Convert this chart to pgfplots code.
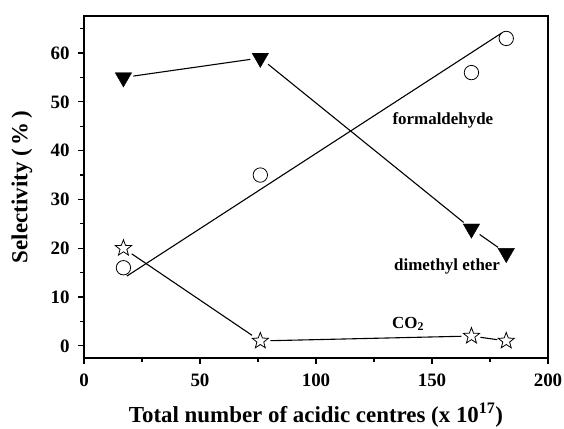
\documentclass[border=0pt]{standalone}
\usepackage{pgfplots}
\pgfplotsset{compat=1.18}
\usepackage{fontspec}
\setmainfont{Liberation Serif}
\usetikzlibrary{plotmarks}
\pgfdeclareplotmark{ostar}{%
  \pgfpathmoveto{\pgfpointpolar{90}{\pgfplotmarksize}}%
  \pgfpathlineto{\pgfpointpolar{126}{0.42\pgfplotmarksize}}%
  \pgfpathlineto{\pgfpointpolar{162}{\pgfplotmarksize}}%
  \pgfpathlineto{\pgfpointpolar{198}{0.42\pgfplotmarksize}}%
  \pgfpathlineto{\pgfpointpolar{234}{\pgfplotmarksize}}%
  \pgfpathlineto{\pgfpointpolar{270}{0.42\pgfplotmarksize}}%
  \pgfpathlineto{\pgfpointpolar{306}{\pgfplotmarksize}}%
  \pgfpathlineto{\pgfpointpolar{342}{0.42\pgfplotmarksize}}%
  \pgfpathlineto{\pgfpointpolar{18}{\pgfplotmarksize}}%
  \pgfpathlineto{\pgfpointpolar{54}{0.42\pgfplotmarksize}}%
  \pgfpathclose
  \pgfusepathqfillstroke
}
\begin{document}
\begin{tikzpicture}
\begin{axis}[
  name=ax,
  scale only axis,
  width=464bp, height=342bp,
  xmin=0, xmax=200, ymin=-2.5, ymax=67.6,
  xtick={0,50,100,150,200},
  ytick={0,10,20,30,40,50,60},
  minor xtick={25,75,125,175},
  minor ytick={5,15,25,35,45,55,65},
  tick pos=left,
  tick align=outside,
  major tick length=6bp,
  minor tick length=4bp,
  axis line style={line width=1.2bp},
  every tick/.style={line width=1.2bp, black},
  tick label style={font=\fontsize{19}{19}\selectfont\bfseries},
  xticklabel style={yshift=-6bp},
  yticklabel style={xshift=-5bp},
  /pgf/number format/assume math mode=true,
  xlabel={\textbf{Total number of acidic centres (x 10\textsuperscript{17})}},
  ylabel={\textbf{Selectivity (\,\%\,)}},
  xlabel style={font=\fontsize{23}{23}\selectfont, at={(axis description cs:0.5,-0.168)}, anchor=center},
  ylabel style={font=\fontsize{23}{23}\selectfont, at={(axis description cs:-0.134,0.5)}, anchor=center},
  clip=false,
]
% dimethyl ether segments
\addplot[black, line width=1.1bp, shorten <=10bp, shorten >=10bp] coordinates {(17,55) (76,59)};
\addplot[black, line width=1.1bp, shorten <=10bp, shorten >=10bp] coordinates {(76,59) (167,24)};
\addplot[black, line width=1.1bp, shorten <=10bp, shorten >=10bp] coordinates {(167,24) (182,19)};
\addplot[only marks, mark=triangle*, mark size=9.5bp, mark options={rotate=180, fill=black, draw=black}] coordinates {(17,55) (76,59) (167,24) (182,19)};
% formaldehyde fit line
\addplot[black, line width=1.1bp] coordinates {(18.5,14.3) (180,64.1)};
\addplot[only marks, mark=o, mark size=7.2bp, mark options={draw=black, line width=0.8bp}] coordinates {(17,16) (76,35) (167,56) (182,63)};
% CO2 segments
\addplot[black, line width=1.1bp, shorten <=10bp, shorten >=10bp] coordinates {(17,20) (76,1)};
\addplot[black, line width=1.1bp, shorten <=10bp, shorten >=10bp] coordinates {(76,1) (167,2)};
\addplot[black, line width=1.1bp, shorten <=9bp, shorten >=9bp] coordinates {(167,2) (182,1)};
\addplot[only marks, mark=ostar, mark size=8.5bp, mark options={draw=black, fill=white, line width=0.8bp}] coordinates {(17,20) (76,1) (167,2) (182,1)};
\node[font=\fontsize{17}{17}\selectfont\bfseries] at (axis cs:154.7,46.3) {formaldehyde};
\node[font=\fontsize{17}{17}\selectfont\bfseries] at (axis cs:156.5,16.2) {dimethyl ether};
\node[font=\fontsize{17}{17}\selectfont\bfseries] at (axis cs:139.7,4.5) {CO\textsubscript{2}};
\end{axis}
\pgfresetboundingbox
\path ([xshift=-84bp,yshift=-71bp]ax.south west) rectangle ([xshift=16bp,yshift=16bp]ax.north east);
\end{tikzpicture}
\end{document}
